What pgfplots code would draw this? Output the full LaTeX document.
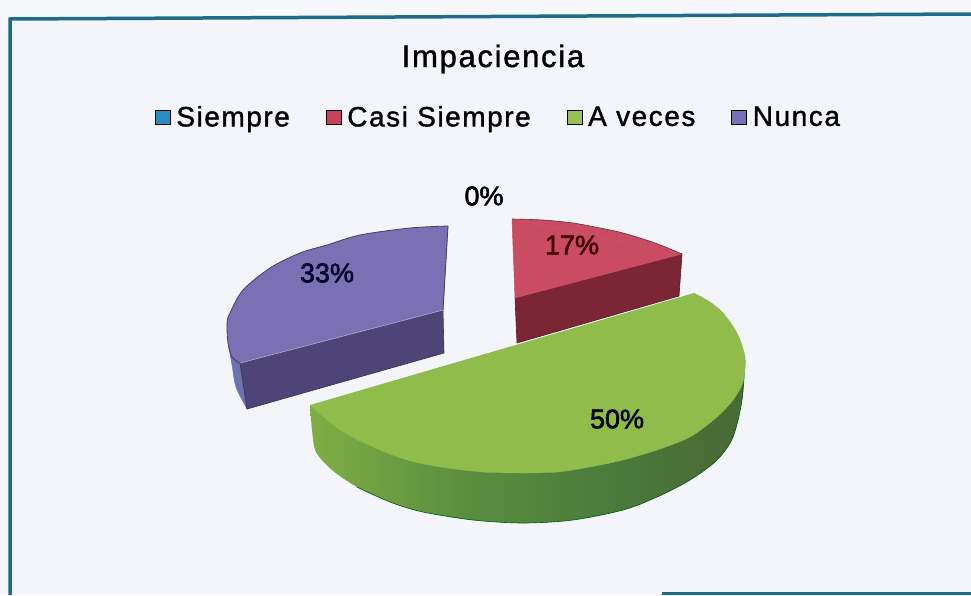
\documentclass[border=0pt]{standalone}
\usepackage{pgfplots}
\pgfplotsset{compat=1.18}
\usepackage{fontspec}
\setmainfont{Liberation Sans}
\newfontfamily\spaced[LetterSpace=5.5,FakeBold=1.2]{Liberation Sans}
\newfontfamily\lab[FakeBold=2]{Liberation Sans}
\definecolor{bgout}{HTML}{F6F7FA}
\definecolor{bgin}{HTML}{F3F5FB}
\definecolor{frame}{HTML}{1F6C8A}
\definecolor{sBlue}{HTML}{2A8CC0}
\definecolor{sRed}{HTML}{C8405A}
\definecolor{sGreen}{HTML}{9ABF55}
\definecolor{sPurple}{HTML}{7570B8}
\definecolor{gTop}{HTML}{8FBC4B}
\definecolor{pTop}{HTML}{7B70B4}
\definecolor{pSide}{HTML}{4F4478}
\definecolor{pEdge}{HTML}{6D70AE}
\definecolor{rTop}{HTML}{C94C63}
\definecolor{rSide}{HTML}{7C2535}
\pgfdeclarehorizontalshading{greenside}{100bp}{
 rgb(0bp)=(0.50,0.68,0.27);
 rgb(25bp)=(0.50,0.68,0.27);
 rgb(42bp)=(0.36,0.56,0.25);
 rgb(60bp)=(0.29,0.48,0.23);
 rgb(72bp)=(0.29,0.42,0.21);
 rgb(85bp)=(0.25,0.45,0.24);
 rgb(100bp)=(0.24,0.44,0.23)}
\begin{document}
\begin{tikzpicture}
\begin{axis}[
  scale only axis, width=971pt, height=595pt,
  xmin=0, xmax=971, ymin=0, ymax=595, y dir=reverse,
  hide axis, clip=true,
  title={\fontsize{31}{33}\selectfont\spaced Impaciencia},
  title style={at={(axis cs:493,73)}, anchor=base, inner sep=0pt, yshift=0pt},
  legend columns=4,
  legend style={at={(axis cs:155,117)}, anchor=west, draw=none, fill=none,
    inner sep=0pt, outer sep=0pt,
    font=\fontsize{28}{30}\selectfont\spaced,
    /tikz/every even column/.append style={column sep=34pt},
    /tikz/every odd column/.append style={column sep=4pt}},
  legend image code/.code={\fill[#1] (0pt,-7pt) rectangle (15pt,7pt);},
]
% background
\addplot[draw=none, fill=bgout, forget plot] coordinates {(0,0)(971,0)(971,595)(0,595)(0,0)};
\addplot[draw=none, fill=bgin, forget plot] coordinates {(10,19)(971,14)(971,593)(10,595)(10,19)};
% frame
\addplot[draw=frame, line width=3.5pt, forget plot] coordinates {(10,595)(10,19)(971,14)};
\addplot[draw=frame, line width=3pt, forget plot] coordinates {(662,593)(971,593)};

% purple: 33%
\addplot[draw=pEdge, line width=.4pt, fill=pEdge, smooth, forget plot] coordinates
 {(228,343)(232,365)(236,387)(247,409)};
\addplot[draw=pEdge, line width=.4pt, fill=pEdge, forget plot] coordinates
 {(228,343)(247,409)(240,363)(228,343)};
\addplot[draw=pSide!70!black, fill=pSide, line width=.6pt, forget plot] coordinates
 {(443,310)(240,363)(247,409)(444,353)(443,310)};
\addplot[draw=pTop, line width=.5pt, fill=pTop, forget plot] coordinates
 {(448,226)(240,363)(443,310)(448,226)};
\addplot[draw=pTop!55!black, fill=pTop, line width=.8pt, smooth, forget plot] coordinates
 {(448,226)(410,228)(360,235)(327,245)(300,253)(270,268)(243,290)(230,313)(227,323)(228,343)(232,357)(240,363)};
\addplot[draw=pTop!55!black, line width=.8pt, forget plot] coordinates {(448,226)(443,310)};
\addplot[draw=pTop!60!white, line width=.6pt, forget plot] coordinates {(240,363)(443,310)};

% red: 17%
\addplot[draw=rSide!70!black, fill=rSide, line width=.6pt, forget plot] coordinates
 {(682,254)(515,298)(517,343)(679,296)(682,254)};
\addplot[draw=rTop, line width=.5pt, fill=rTop, forget plot] coordinates
 {(512,219)(682,254)(515,298)(512,219)};
\addplot[draw=rTop!55!black, fill=rTop, line width=.6pt, smooth, forget plot] coordinates
 {(512,219)(543,220)(573,223)(600,228)(623,233)(655,243)(682,254)};

% green: 50%
\addplot[shade, shading=greenside, draw=none, smooth, forget plot] coordinates
 {(745,360)(742,400)(733,437)(717,460)(690,480)(657,497)(623,510)(573,520)(523,523)(473,520)(423,512)(390,502)(357,487)(332,470)(316,452)(312,430)(310,405)};
\addplot[draw=black!65!green, line width=.6pt, smooth, forget plot] coordinates
 {(745,360)(742,400)(733,437)(717,460)(690,480)(657,497)(623,510)(573,520)(523,523)(473,520)(423,512)(390,502)(357,487)};
\addplot[draw=gTop, line width=.3pt, fill=gTop, smooth, forget plot] coordinates
 {(694,293)(710,302)(723,313)(737,333)(745,357)(743,382)(733,400)(717,417)(690,437)(657,450)(623,460)(590,467)(557,472)(523,473)(483,472)(440,467)(407,460)(373,447)(340,430)(310,405)};

\addlegendimage{fill=sBlue}\addlegendentry{Siempre}
\addlegendimage{fill=sRed}\addlegendentry{Casi Siempre}
\addlegendimage{fill=sGreen}\addlegendentry{A veces}
\addlegendimage{fill=sPurple}\addlegendentry{Nunca}

\node[font=\fontsize{27}{30}\lab] at (axis cs:484,196) {0\%};
\node[font=\fontsize{27}{30}\lab, text=black!85!blue] at (axis cs:327,273) {33\%};
\node[font=\fontsize{27}{30}\lab, text=black!75!red] at (axis cs:572,245) {17\%};
\node[font=\fontsize{27}{30}\lab] at (axis cs:617,419) {50\%};
\end{axis}
\end{tikzpicture}
\end{document}
